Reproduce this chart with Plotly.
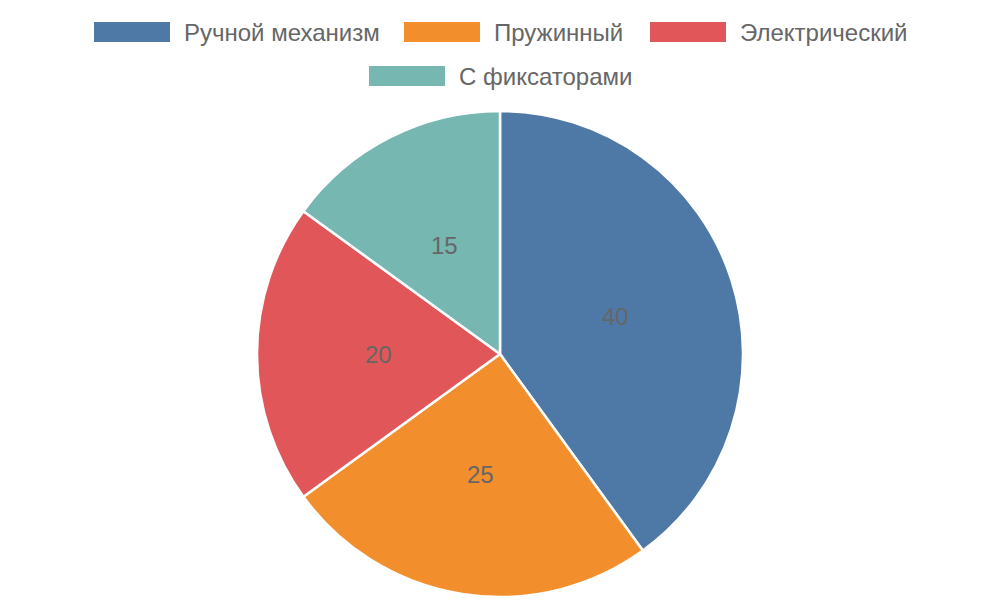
import math
import plotly.graph_objects as go

categories = ["Ручной механизм", "Пружинный", "Электрический", "С фиксаторами"]
values = [40, 25, 20, 15]
colors = ["#4e79a7", "#f28e2b", "#e15759", "#76b7b2"]

W, H = 1000, 600
CX, CY, R = 500, 354, 243
fig = go.Figure(go.Pie(
    labels=categories, values=values, sort=False, direction="clockwise", rotation=0,
    marker=dict(colors=colors, line=dict(color="white", width=2.5)),
    textinfo="none",
    domain=dict(x=[(CX-R)/W, (CX+R)/W], y=[(H-CY-R)/H, (H-CY+R)/H]),
    showlegend=False, hoverinfo="label+value+percent",
))

shapes, annotations = [], []
# value labels at half radius, mid-angle of each slice (ECharts 'inner' style)
total = sum(values)
cum = 0
for v in values:
    mid = (cum + v / 2) / total * 2 * math.pi
    cum += v
    px = CX + R / 2 * math.sin(mid)
    py = CY - R / 2 * math.cos(mid)
    annotations.append(dict(xref="paper", yref="paper", x=px/W, y=(H-py)/H,
                            xanchor="center", yanchor="middle", text=str(v), showarrow=False,
                            font=dict(family="Liberation Sans", size=24, color="#666666")))

# custom legend (rectangular swatches, ECharts-like)
legend_pos = [(94, 32), (404, 32), (650, 32), (369, 76)]
for (x0, yc), name, col in zip(legend_pos, categories, colors):
    shapes.append(dict(type="rect", xref="paper", yref="paper",
                       x0=x0/W, x1=(x0+76)/W, y0=(H-yc-10)/H, y1=(H-yc+10)/H,
                       fillcolor=col, line=dict(width=0)))
    annotations.append(dict(xref="paper", yref="paper", x=(x0+88)/W, y=(H-yc)/H,
                            xanchor="left", yanchor="middle", text=name, showarrow=False,
                            font=dict(family="Liberation Sans", size=24, color="#666666")))

fig.update_layout(width=W, height=H, margin=dict(l=0, r=0, t=0, b=0),
                  paper_bgcolor="white", plot_bgcolor="white",
                  shapes=shapes, annotations=annotations)
fig.write_html("out.html")
